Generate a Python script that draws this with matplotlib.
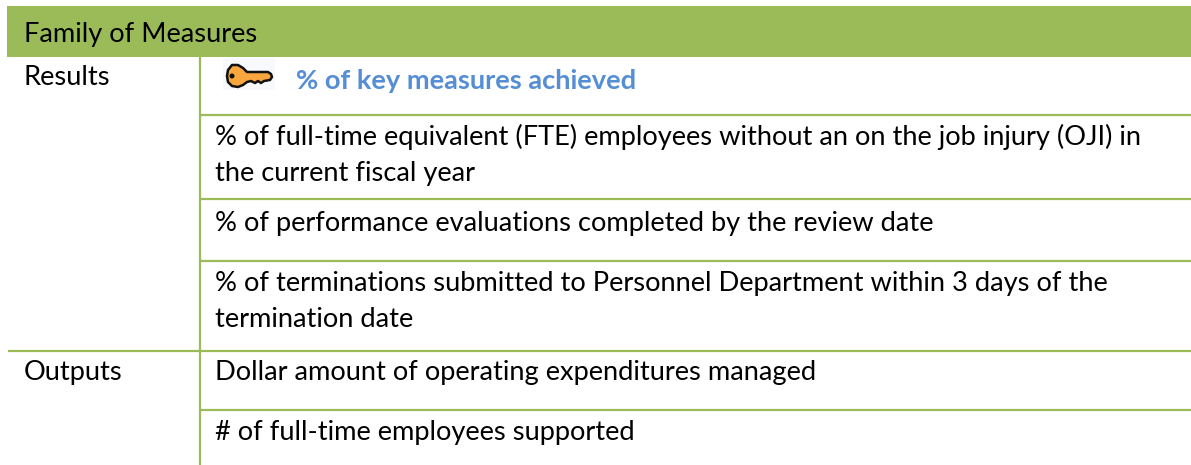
import matplotlib.pyplot as plt
from matplotlib.patches import Rectangle, Polygon, Circle

W, H = 1191, 465
GREEN = '#9bbb59'
BLUE = '#558ed5'
FS = 19.6
plt.rcParams['font.family'] = ['Lato', 'DejaVu Sans']

header = 'Family of Measures'
groups = ['Results', 'Outputs']
key_measure = '% of key measures achieved'
measure_lines = [
    '% of full-time equivalent (FTE) employees without an on the job injury (OJI) in',
    'the current fiscal year',
    '% of performance evaluations completed by the review date',
    '% of terminations submitted to Personnel Department within 3 days of the',
    'termination date',
    'Dollar amount of operating expenditures managed',
    '# of full-time employees supported',
]

fig = plt.figure(figsize=(W / 100, H / 100), dpi=100)
ax = fig.add_axes([0, 0, 1, 1])
ax.set_xlim(0, W)
ax.set_ylim(H, 0)
ax.axis('off')

ax.add_patch(Rectangle((7, 6), W - 7, 51, color=GREEN, lw=0))
ax.text(24, 42, header, fontsize=FS, va='baseline')

# rules between the rows
ax.plot([200, 200], [57, H], color=GREEN, lw=1.6, solid_capstyle='butt')
for y in [115, 199, 261, 410]:
    ax.plot([200, W], [y, y], color=GREEN, lw=1.6, solid_capstyle='butt')
ax.plot([8, W], [351, 351], color=GREEN, lw=1.6, solid_capstyle='butt')

ax.text(24, 85, groups[0], fontsize=FS, va='baseline')
ax.text(24, 380, groups[1], fontsize=FS, va='baseline')

# key icon
ax.add_patch(Rectangle((223, 58), 52, 32, color='#f7f9fc', lw=0))
key = Polygon([(232, 65), (238, 65), (243, 68), (247, 72), (268, 72), (271, 74), (272, 77),
               (270, 80), (264, 81), (261, 83), (258, 81), (255, 83), (251, 81), (247, 82),
               (243, 85), (238, 87), (232, 86), (228, 82), (227, 76), (228, 70)],
              closed=True, fc='#f9a63f', ec='#111111', lw=1.8, joinstyle='round')
ax.add_patch(key)
ax.add_patch(Circle((232, 76), 1.8, color='#111111'))

ax.text(296, 89, key_measure, fontsize=FS, va='baseline', color=BLUE, fontweight='bold')

line_y = [145, 181, 231, 291, 327, 380, 440]
for y, line in zip(line_y, measure_lines):
    ax.text(215, y, line, fontsize=FS, va='baseline')

fig.savefig('out.png', dpi=100)
